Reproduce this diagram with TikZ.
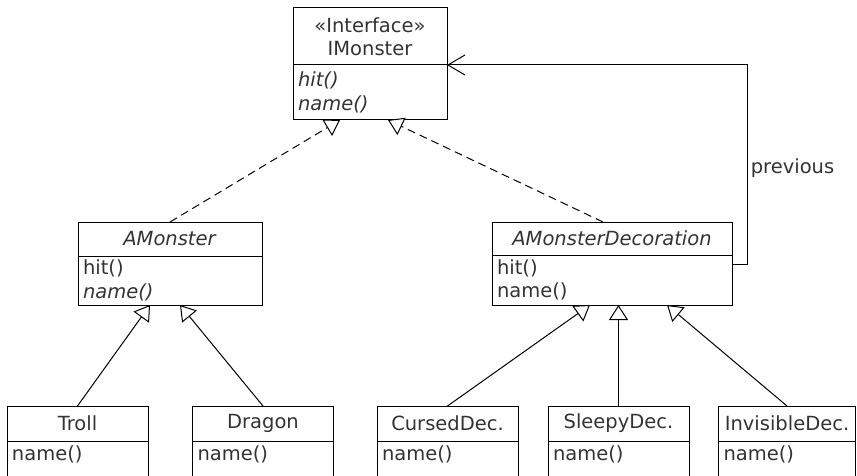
\documentclass[tikz,border=0pt]{standalone}
\usepackage{fontspec}
\setmainfont{DejaVu Sans}
\usetikzlibrary{arrows.meta}
\usetikzlibrary{positioning}

\tikzset{
  uml/.style={draw, line width=1pt, outer sep=0pt, inner xsep=5pt, inner ysep=0pt,
    text=black!80, font=\fontsize{19.5}{23.5}\selectfont},
  head/.style={uml, align=center},
  body/.style={uml, align=left, below=0pt of #1},
  leafbody/.style={body=#1, inner ysep=5pt, text depth=40pt, minimum height=0pt},
  implements/.style={line width=1pt, dash pattern=on 8pt off 5pt,
    -{Triangle[fill=white, length=15pt, width=19pt]}},
  extends/.style={line width=1pt, -{Triangle[fill=white, length=15pt, width=19pt]}},
  navigates/.style={line width=1pt, -{Straight Barb[length=17pt, width=20pt]}},
}

\begin{document}
\begin{tikzpicture}[x=1pt,y=-1pt]
  \useasboundingbox (0,0) rectangle (857,476);
  \clip (0,0) rectangle (857,476);

  \node[head, text width=144pt, minimum height=57pt] (imonster) at (370,36.5) {«Interface»\\IMonster};
  \node[body=imonster, text width=144pt, minimum height=55pt] (imonsterops) {\textit{hit()}\\\textit{name()}};

  \node[head, text width=174pt, minimum height=34pt] (amonster) at (170,239) {\textit{AMonster}};
  \node[body=amonster, text width=174pt, minimum height=49pt] (amonsterops) {hit()\\\textit{name()}};

  \node[head, text width=230pt, minimum height=33pt] (amd) at (612,238.5) {\textit{AMonsterDecoration}};
  \node[body=amd, text width=230pt, minimum height=50pt] (amdops) {hit()\\name()};

  \foreach \name/\label/\x/\w in {troll/Troll/77.5/131, dragon/Dragon/263/131,
      cursed/CursedDec./447.5/131, sleepy/SleepyDec./618.5/131,
      invisible/InvisibleDec./787/127}{
    \node[head, text width=\w pt, minimum height=35pt] (\name) at (\x,423.5) {\label};
    \node[leafbody=\name, text width=\w pt] (\name ops) {name()};
  }

  \draw[implements] (amonster.north) -- ([xshift=-30pt]imonsterops.south);
  \draw[implements] ([xshift=-9pt]amd.north) -- ([xshift=18pt]imonsterops.south);

  \draw[extends] (troll.north) -- ([xshift=-20pt]amonsterops.south);
  \draw[extends] (dragon.north) -- ([xshift=10pt]amonsterops.south);
  \draw[extends] (cursed.north) -- ([xshift=-22pt]amdops.south);
  \draw[extends] (sleepy.north) -- (sleepy.north |- amdops.south);
  \draw[extends] (invisible.north) -- ([xshift=55pt]amdops.south);

  \draw[navigates] ([yshift=-9pt]amdops.north east) -- ++(15,0) |- (imonster.south east)
    node[pos=0.24, right, text=black!80, font=\fontsize{19.5}{23.5}\selectfont] {previous};
\end{tikzpicture}
\end{document}
